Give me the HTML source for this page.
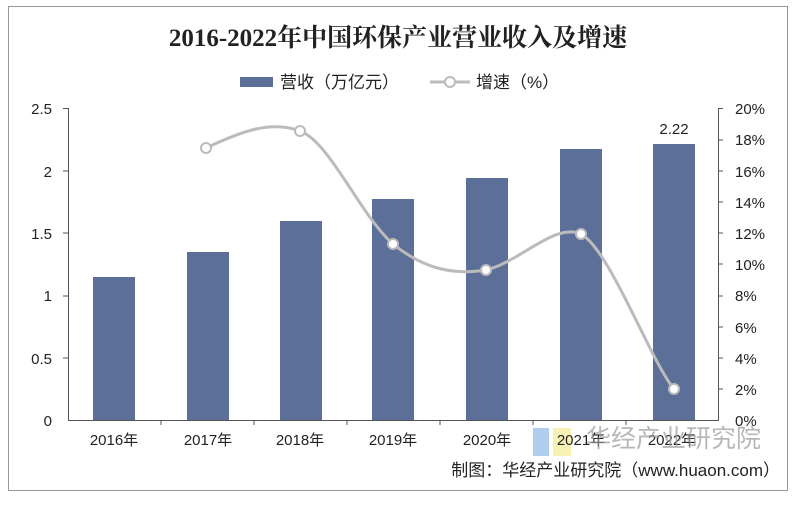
<!DOCTYPE html><html><head><meta charset="utf-8"><style>body{margin:0;background:#fff;width:798px;height:500px;overflow:hidden}svg text{font-family:"Liberation Sans","Noto Sans CJK SC",sans-serif;fill:#222}</style></head><body>
<svg width="798" height="500" viewBox="0 0 798 500">
<rect x="8.5" y="6.5" width="779" height="484" fill="#fff" stroke="#999"/>
<text x="398" y="46" text-anchor="middle" font-size="25" font-weight="bold" style="font-family:'Liberation Serif','Noto Serif CJK SC',serif">2016-2022年中国环保产业营业收入及增速</text>
<rect x="240" y="77" width="33" height="10" fill="#5b6f99"/>
<text x="280" y="88" font-size="17">营收（万亿元）</text>
<line x1="430" y1="82" x2="470" y2="82" stroke="#bbb" stroke-width="3"/><circle cx="450" cy="82" r="5" fill="#fff" stroke="#bbb" stroke-width="2"/>
<text x="476" y="88" font-size="17">增速（%）</text>
<g font-size="15" text-anchor="end">
<text x="52" y="114">2.5</text><text x="52" y="177">2</text><text x="52" y="239">1.5</text><text x="52" y="301">1</text><text x="52" y="364">0.5</text><text x="52" y="426">0</text></g>
<g font-size="15">
<text x="735" y="114">20%</text><text x="735" y="145">18%</text><text x="735" y="177">16%</text><text x="735" y="208">14%</text><text x="735" y="239">12%</text><text x="735" y="270">10%</text><text x="735" y="301">8%</text><text x="735" y="333">6%</text><text x="735" y="364">4%</text><text x="735" y="395">2%</text><text x="735" y="426">0%</text></g>
<g stroke="#555" stroke-width="1" fill="none">
<path d="M63 108.5H68.5V420.5H718.5V108.5H723"/>
<path d="M63 171H68M63 233H68M63 296H68M63 358H68M718 140H723M718 171H723M718 202H723M718 233H723M718 264H723M718 296H723M718 327H723M718 358H723M718 389H723M161 420v5M254 420v5M347 420v5M440 420v5M533 420v5M626 420v5"/>
</g>
<g fill="#5b6f99">
<rect x="93" y="277" width="42" height="143"/>
<rect x="187" y="252" width="42" height="168"/>
<rect x="280" y="221" width="42" height="199"/>
<rect x="372" y="199" width="42" height="221"/>
<rect x="466" y="178" width="42" height="242"/>
<rect x="560" y="149" width="42" height="271"/>
<rect x="653" y="144" width="42" height="276"/></g>
<text x="674" y="134" font-size="15" text-anchor="middle">2.22</text>
<path d="M206 148 C240 132,270 120,300 131 C330 142,360 215,393 244 C425 270,455 275,486 270 C520 262,555 222,581 234 C610 250,650 360,674 389" stroke="#bbb" stroke-width="3" fill="none"/>
<g fill="#fff" stroke="#bbb" stroke-width="2"><circle cx="206" cy="148" r="5"/><circle cx="300" cy="131" r="5"/><circle cx="393" cy="244" r="5"/><circle cx="486" cy="270" r="5"/><circle cx="581" cy="234" r="5"/><circle cx="674" cy="389" r="5"/></g>
<rect x="533" y="428" width="16" height="28" fill="#9cc0ea" opacity=".8"/><rect x="553" y="428" width="18" height="28" fill="#f5eea0" opacity=".8"/>
<g font-size="15" text-anchor="middle">
<text x="114" y="445">2016年</text><text x="208" y="445">2017年</text><text x="300" y="445">2018年</text><text x="393" y="445">2019年</text><text x="487" y="445">2020年</text><text x="581" y="445">2021年</text><text x="672" y="445">2022年</text></g>
<text x="586" y="447" font-size="25" style="fill:#999;opacity:.7">华经产业研究院</text>
<text x="780" y="476" font-size="17" text-anchor="end">制图：华经产业研究院（www.huaon.com）</text>
</svg></body></html>
